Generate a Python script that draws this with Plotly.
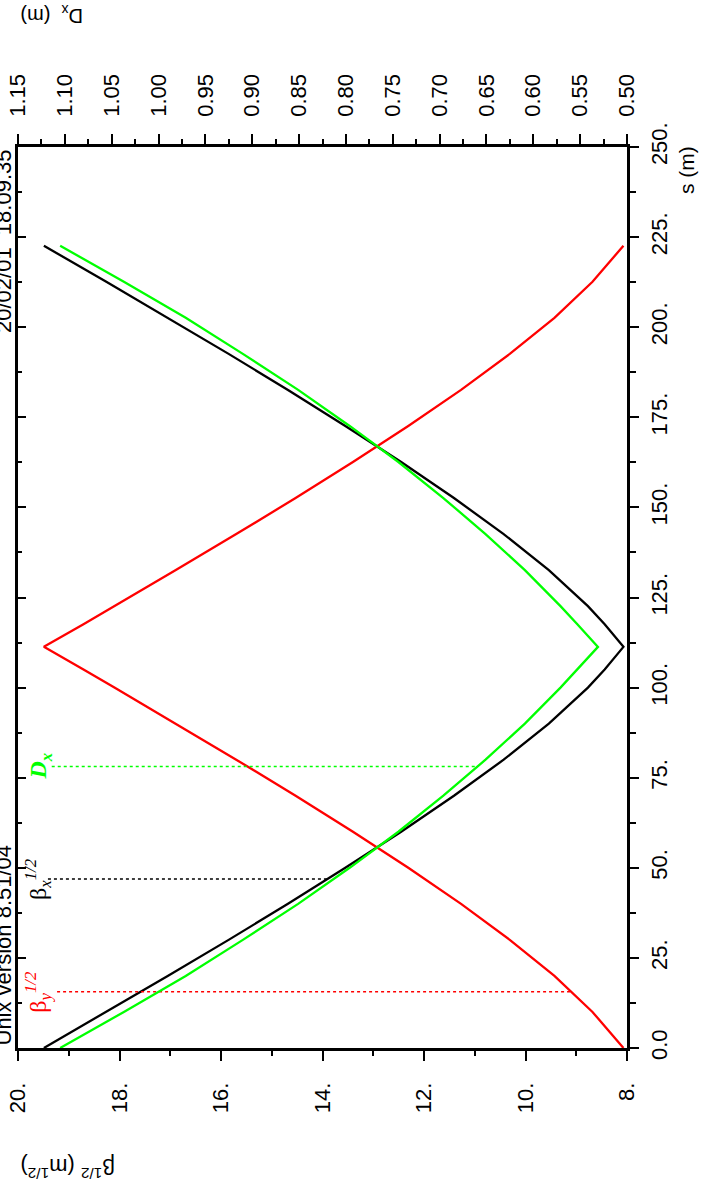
import plotly.graph_objects as go

# ---- data ----
s_m = [0, 10, 20, 30, 40, 50, 60, 70, 80, 90, 100, 105, 111.3,
       117.6, 122.6, 132.6, 142.6, 152.6, 162.6, 172.6, 182.6, 192.6, 202.6, 212.6, 222.6]
beta_x_sqrt = [19.49, 18.26, 17.05, 15.85, 14.68, 13.55, 12.45, 11.41, 10.43, 9.54, 8.77, 8.44, 8.07,
               8.44, 8.77, 9.54, 10.43, 11.41, 12.45, 13.55, 14.68, 15.85, 17.05, 18.26, 19.49]
beta_y_sqrt = [8.07, 8.68, 9.43, 10.31, 11.27, 12.31, 13.40, 14.53, 15.70, 16.89, 18.10, 18.71, 19.49,
               18.71, 18.10, 16.89, 15.70, 14.53, 13.40, 12.31, 11.27, 10.31, 9.43, 8.68, 8.07]
disp_x = [1.105, 1.037, 0.971, 0.910, 0.851, 0.796, 0.744, 0.696, 0.651, 0.609, 0.571, 0.553, 0.531,
          0.553, 0.571, 0.609, 0.651, 0.696, 0.744, 0.796, 0.851, 0.910, 0.971, 1.037, 1.105]

# label marker positions (s) and where the dotted lines reach the curves
label_s = [15.6, 46.9, 78.1]
label_end_beta_y = 9.09
label_end_beta_x = 13.90
label_end_dx = 0.659

beta_ticks = [20, 18, 16, 14, 12, 10, 8]
beta_ticktext = ["20.", "18.", "16.", "14.", "12.", "10.", "8."]
beta_minor = [19, 17, 15, 13, 11, 9]
dx_ticks = [1.15, 1.10, 1.05, 1.00, 0.95, 0.90, 0.85, 0.80, 0.75, 0.70, 0.65, 0.60, 0.55, 0.50]
dx_ticktext = ["1.15", "1.10", "1.05", "1.00", "0.95", "0.90", "0.85", "0.80", "0.75", "0.70",
               "0.65", "0.60", "0.55", "0.50"]
dx_minor = [1.125, 1.075, 1.025, 0.975, 0.925, 0.875, 0.825, 0.775, 0.725, 0.675, 0.625, 0.575, 0.525]
s_ticks = [0, 25, 50, 75, 100, 125, 150, 175, 200, 225, 250]
s_ticktext = ["0.0", "25.", "50.", "75.", "100.", "125.", "150.", "175.", "200.", "225.", "250."]
s_minor = [12.5, 37.5, 62.5, 87.5, 112.5, 137.5, 162.5, 187.5, 212.5, 237.5]

RED = "#ff0000"
GREEN = "#00ff00"
BLACK = "#000000"
W, H = 702, 1194
ML, MR, MT, MB = 18, 75, 147, 146
PW, PH = W - ML - MR, H - MT - MB


def px_x(p):
    return (p - ML) / PW


def px_y(p):
    return (H - MB - p) / PH


fig = go.Figure()
fig.add_trace(go.Scatter(x=beta_x_sqrt, y=s_m, mode="lines", line=dict(color=BLACK, width=2.3),
                         xaxis="x", yaxis="y", showlegend=False))
fig.add_trace(go.Scatter(x=beta_y_sqrt, y=s_m, mode="lines", line=dict(color=RED, width=2.3),
                         xaxis="x", yaxis="y", showlegend=False))
fig.add_trace(go.Scatter(x=disp_x, y=s_m, mode="lines", line=dict(color=GREEN, width=2.3),
                         xaxis="x2", yaxis="y", showlegend=False))
# dotted label lines
fig.add_trace(go.Scatter(x=[19.23, label_end_beta_y], y=[label_s[0], label_s[0]], mode="lines",
                         line=dict(color=RED, width=1.5, dash="dot"), xaxis="x", yaxis="y",
                         showlegend=False))
fig.add_trace(go.Scatter(x=[19.41, label_end_beta_x], y=[label_s[1], label_s[1]], mode="lines",
                         line=dict(color=BLACK, width=1.5, dash="dot"), xaxis="x", yaxis="y",
                         showlegend=False))
fig.add_trace(go.Scatter(x=[1.114, label_end_dx], y=[label_s[2], label_s[2]], mode="lines",
                         line=dict(color=GREEN, width=1.5, dash="dot"), xaxis="x2", yaxis="y",
                         showlegend=False))
# invisible trace to activate left mirror axis
fig.add_trace(go.Scatter(x=[None], y=[None], xaxis="x", yaxis="y2", showlegend=False))

tickfont = dict(family="Liberation Sans, Arial, sans-serif", size=22, color=BLACK)
common = dict(showgrid=False, zeroline=False, showline=True, linecolor=BLACK, linewidth=2.5,
              tickcolor=BLACK, tickwidth=2, tickfont=tickfont, tickangle=-90, fixedrange=True,
              automargin=False)

fig.update_layout(
    width=W, height=H,
    margin=dict(l=ML, r=MR, t=MT, b=MB, pad=0),
    paper_bgcolor="white", plot_bgcolor="white",
    xaxis=dict(range=[20, 8], side="bottom", ticks="outside", ticklen=10, ticklabelstandoff=13,
               tickmode="array", tickvals=beta_ticks, ticktext=beta_ticktext,
               minor=dict(tickmode="array", tickvals=beta_minor, ticks="outside", ticklen=5,
                          tickwidth=2, tickcolor=BLACK),
               **common),
    xaxis2=dict(range=[1.15, 0.50], side="top", overlaying="x", ticks="outside", ticklen=10,
                ticklabelstandoff=13,
                tickmode="array", tickvals=dx_ticks, ticktext=dx_ticktext,
                minor=dict(tickmode="array", tickvals=dx_minor, ticks="outside", ticklen=5,
                           tickwidth=2, tickcolor=BLACK),
                **common),
    yaxis=dict(range=[0, 250], side="right", ticks="outside", ticklen=9, ticklabelstandoff=2,
               tickmode="array", tickvals=s_ticks, ticktext=s_ticktext,
               minor=dict(tickmode="array", tickvals=s_minor, ticks="outside", ticklen=6,
                          tickwidth=2, tickcolor=BLACK),
               **common),
    yaxis2=dict(range=[0, 250], side="left", overlaying="y", ticks="inside", ticklen=8,
                tickmode="array", tickvals=s_ticks, showticklabels=False,
                minor=dict(tickmode="array", tickvals=s_minor, ticks="inside", ticklen=4,
                           tickwidth=2, tickcolor=BLACK),
                **common),
)

serif = "Liberation Serif, Times New Roman, serif"
sans = "Liberation Sans, Arial, sans-serif"
ann = []
ann.append(dict(text="β<sub><i>y</i></sub><sup><i>1/2</i></sup>", xref="paper", yref="y",
                x=px_x(38), y=label_s[0], textangle=-90, showarrow=False,
                font=dict(family=serif, size=24, color=RED), xanchor="center", yanchor="middle"))
ann.append(dict(text="β<sub><i>x</i></sub><sup><i>1/2</i></sup>", xref="paper", yref="y",
                x=px_x(38), y=label_s[1], textangle=-90, showarrow=False,
                font=dict(family=serif, size=24, color=BLACK), xanchor="center", yanchor="middle"))
ann.append(dict(text="<b><i>D<sub>x</sub></i></b>", xref="paper", yref="y",
                x=px_x(40), y=label_s[2], textangle=-90, showarrow=False,
                font=dict(family=serif, size=24, color=GREEN), xanchor="center", yanchor="middle"))
# axis titles
ann.append(dict(text="D<sub>x</sub>&nbsp; (m)", xref="paper", yref="paper", x=px_x(52), y=px_y(15),
                textangle=180, showarrow=False, font=dict(family=sans, size=20, color=BLACK),
                xanchor="center", yanchor="middle"))
ann.append(dict(text="β<sup>1/2</sup> (m<sup>1/2</sup>)", xref="paper", yref="paper",
                x=px_x(68), y=px_y(1168), textangle=180, showarrow=False,
                font=dict(family=sans, size=22, color=BLACK), xanchor="center", yanchor="middle"))
ann.append(dict(text="s (m)", xref="paper", yref="paper", x=px_x(687), y=px_y(170),
                textangle=-90, showarrow=False, font=dict(family=sans, size=21, color=BLACK),
                xanchor="center", yanchor="middle"))
# header texts (rotated, partly outside the page)
ann.append(dict(text="Unix version 8.51/04", xref="paper", yref="paper", x=px_x(3), y=0,
                textangle=-90, showarrow=False, font=dict(family=sans, size=22, color=BLACK),
                xanchor="center", yanchor="bottom"))
ann.append(dict(text="20/02/01  18.09.35", xref="paper", yref="paper", x=px_x(3), y=1,
                textangle=-90, showarrow=False, font=dict(family=sans, size=22, color=BLACK),
                xanchor="center", yanchor="top"))
fig.update_layout(annotations=ann)

fig.write_html("out.html", config={"displayModeBar": False},
               post_script="document.body.style.margin='0px';")
